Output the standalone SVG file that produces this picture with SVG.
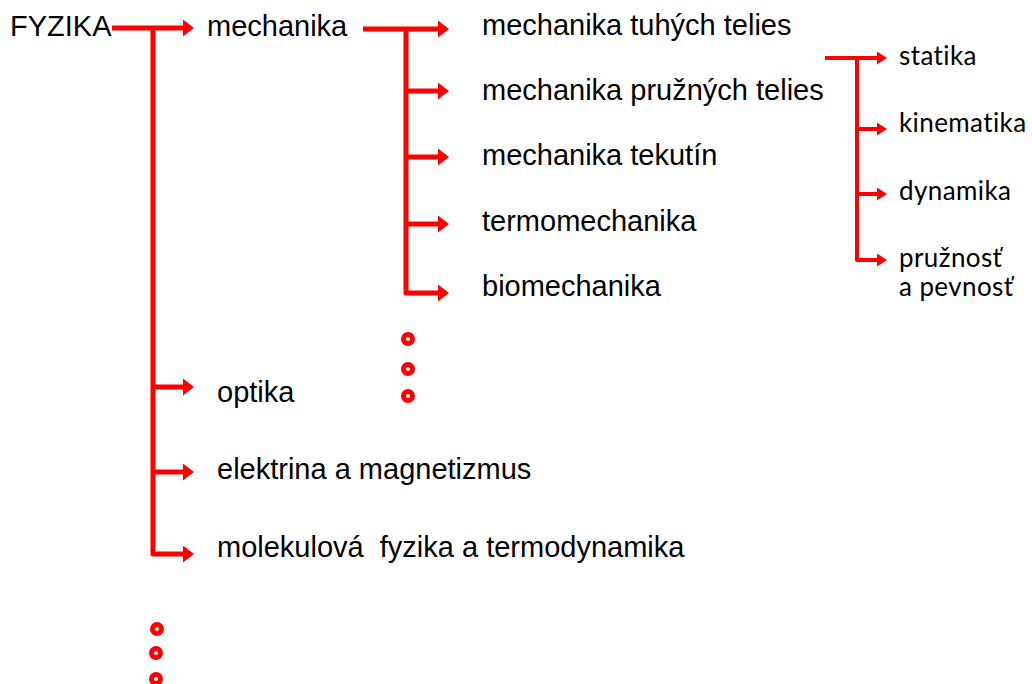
<svg xmlns="http://www.w3.org/2000/svg" width="1032" height="684" viewBox="0 0 1032 684">
<style>
.t{font-family:"Liberation Sans",Arial,sans-serif;font-size:29px;fill:#000}
.s{font-family:Lato,"Open Sans",sans-serif;font-size:26px;letter-spacing:0.4px;fill:#000}
.c{fill:none;stroke:#FF0000;stroke-width:5;stroke-linejoin:round}
.c2{fill:none;stroke:#FF0000;stroke-width:4;stroke-linejoin:round}
.d{fill:#fff;stroke:#FF0000;stroke-width:5}
</style>
<defs>
<marker id="ah" markerUnits="userSpaceOnUse" markerWidth="12" markerHeight="18" refX="0" refY="8.5" orient="auto">
<path d="M0,0 L11,8.5 L0,17 z" fill="#FF0000"/>
</marker>
<marker id="ah2" markerUnits="userSpaceOnUse" markerWidth="11" markerHeight="14" refX="0" refY="6.5" orient="auto">
<path d="M0,0 L10,6.5 L0,13 z" fill="#FF0000"/>
</marker>
</defs>
<rect width="1032" height="684" fill="#fff"/>
<g id="connectors">
<path class="c" d="M112,28 H183" marker-end="url(#ah)"/>
<path class="c" d="M153,28 V554 H183" marker-end="url(#ah)"/>
<path class="c" d="M153,387 H183" marker-end="url(#ah)"/>
<path class="c" d="M153,472 H183" marker-end="url(#ah)"/>
<path class="c" d="M363,29 H438" marker-end="url(#ah)"/>
<path class="c" d="M406,29 V293 H438" marker-end="url(#ah)"/>
<path class="c" d="M406,91 H438" marker-end="url(#ah)"/>
<path class="c" d="M406,157 H438" marker-end="url(#ah)"/>
<path class="c" d="M406,224 H438" marker-end="url(#ah)"/>
<path class="c2" d="M825,58 H877" marker-end="url(#ah2)"/>
<path class="c2" d="M857,58 V260 H877" marker-end="url(#ah2)"/>
<path class="c2" d="M857,129 H877" marker-end="url(#ah2)"/>
<path class="c2" d="M857,194 H877" marker-end="url(#ah2)"/>
</g>
<g id="fyzika"><text class="t" x="10" y="36">FYZIKA</text></g>
<g id="mechanika"><text class="t" x="207" y="36">mechanika</text></g>
<g id="tuhych"><text class="t" x="482" y="35">mechanika tuhých telies</text></g>
<g id="pruznych"><text class="t" x="482" y="100">mechanika pružných telies</text></g>
<g id="tekutin"><text class="t" x="482" y="165">mechanika tekutín</text></g>
<g id="termomechanika"><text class="t" x="482" y="231">termomechanika</text></g>
<g id="biomechanika"><text class="t" x="482" y="296">biomechanika</text></g>
<g id="optika"><text class="t" x="217" y="402">optika</text></g>
<g id="elektrina"><text class="t" x="217" y="479">elektrina a magnetizmus</text></g>
<g id="molekulova"><text class="t" x="217" y="557" xml:space="preserve">molekulová  fyzika a termodynamika</text></g>
<g id="statika"><text class="s" x="899" y="65">statika</text></g>
<g id="kinematika"><text class="s" x="899" y="132">kinematika</text></g>
<g id="dynamika"><text class="s" x="899" y="200">dynamika</text></g>
<g id="pruznost"><text class="s"><tspan x="899" y="267">pružnosť</tspan><tspan x="899" y="296">a pevnosť</tspan></text></g>
<g id="dots1">
<circle class="d" cx="408" cy="339" r="4.5"/>
<circle class="d" cx="408" cy="369" r="4.5"/>
<circle class="d" cx="408" cy="396" r="4.5"/>
</g>
<g id="dots2">
<circle class="d" cx="157" cy="629" r="4.5"/>
<circle class="d" cx="156" cy="653" r="4.5"/>
<circle class="d" cx="156" cy="679" r="4.5"/>
</g>
</svg>
